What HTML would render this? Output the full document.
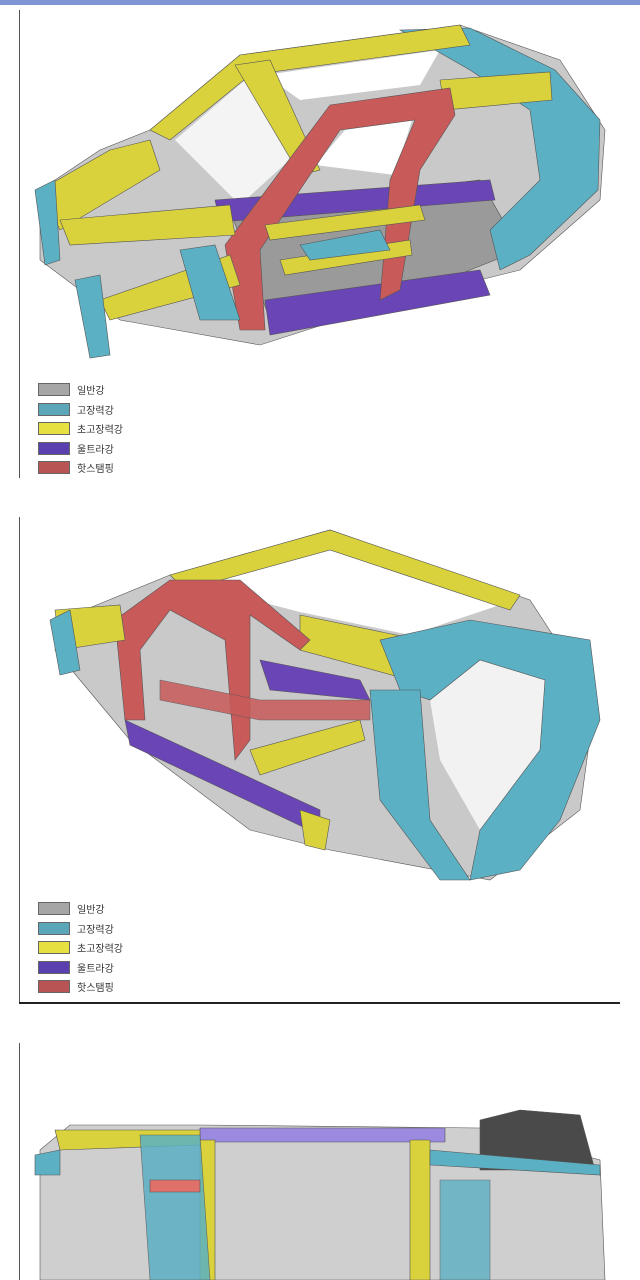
<!DOCTYPE html>
<html><head><meta charset="utf-8"><style>
html,body{margin:0;padding:0;background:#fff;}
body{width:640px;height:1280px;position:relative;overflow:hidden;font-family:"Liberation Sans","Noto Sans CJK KR",sans-serif;}
.topbar{position:absolute;left:0;top:0;width:640px;height:5px;background:#7f95d6;}
.vl{position:absolute;left:19px;width:1px;background:#555;}
.hl{position:absolute;left:19px;top:1002px;width:601px;height:2px;background:#222;}
.leg{position:absolute;left:38px;font-size:10px;color:#333;}
.leg div{height:19.5px;display:flex;align-items:center;}
.leg span{display:inline-block;width:30px;height:11px;border:1px solid #666;margin-right:7px;}
svg{position:absolute;left:0;}
</style></head><body>
<div class="topbar"></div>
<div class="vl" style="top:10px;height:468px"></div>
<div class="vl" style="top:517px;height:486px"></div>
<div class="vl" style="top:1043px;height:237px"></div>
<div class="hl"></div>

<svg style="top:0" width="640" height="360" viewBox="0 0 640 360">
<g stroke="#555" stroke-width="0.6">
<polygon points="150,130 240,55 460,25 560,60 605,130 600,200 520,270 400,300 260,345 120,320 40,260 40,190 100,150" fill="#c9c9c9"/>
<polygon points="265,75 440,50 420,85 300,100" fill="#fff" stroke="none"/>
<polygon points="175,140 245,80 295,155 240,205" fill="#f4f4f4" stroke="none"/>
<polygon points="315,165 345,130 412,120 395,175" fill="#fff" stroke="none"/>
<polygon points="230,210 480,180 520,250 420,290 270,320" fill="#9a9a9a"/>
<polygon points="400,30 470,28 555,70 600,120 598,190 530,255 500,270 490,230 540,180 530,110 470,70" fill="#5bb0c4"/>
<polygon points="150,130 240,55 460,25 470,45 250,75 170,140" fill="#d9d23c"/>
<polygon points="235,65 270,60 320,170 300,175" fill="#d9d23c"/>
<polygon points="440,80 550,72 552,100 445,110" fill="#d9d23c"/>
<polygon points="215,200 490,180 495,200 220,222" fill="#6a45b5"/>
<polygon points="265,300 480,270 490,295 270,335" fill="#6a45b5"/>
<polygon points="225,245 330,105 450,88 455,115 420,170 400,290 380,300 390,180 415,120 340,130 260,250 265,330 240,330" fill="#c85a5a"/>
<polygon points="265,225 420,205 425,220 270,240" fill="#d9d23c"/>
<polygon points="280,260 410,240 412,255 285,275" fill="#d9d23c"/>
<polygon points="40,190 110,150 150,140 160,170 60,230" fill="#d9d23c"/>
<polygon points="60,220 230,205 235,235 70,245" fill="#d9d23c"/>
<polygon points="100,300 230,255 240,285 110,320" fill="#d9d23c"/>
<polygon points="35,190 55,180 60,260 45,265" fill="#5bb0c4"/>
<polygon points="75,280 100,275 110,355 90,358" fill="#5bb0c4"/>
<polygon points="180,250 215,245 240,320 200,320" fill="#5bb0c4"/>
<polygon points="300,245 380,230 390,250 310,260" fill="#5bb0c4"/>
</g></svg>

<svg style="top:510px" width="640" height="390" viewBox="0 510 640 390">
<g stroke="#555" stroke-width="0.6">
<polygon points="60,620 170,575 330,530 530,600 595,700 580,810 490,880 330,850 250,830 130,740 55,650" fill="#c9c9c9"/>
<polygon points="195,585 325,548 500,605 410,635 300,612" fill="#fff" stroke="none"/>
<polygon points="430,700 480,660 545,680 540,750 480,830 440,760" fill="#f2f2f2" stroke="none"/>
<polygon points="170,575 330,530 520,595 510,610 330,550 185,590" fill="#d9d23c"/>
<polygon points="300,615 420,640 410,680 300,650" fill="#d9d23c"/>
<polygon points="380,640 470,620 590,640 600,720 560,820 520,870 470,880 480,830 540,750 545,680 480,660 430,700 400,690" fill="#5bb0c4"/>
<polygon points="370,690 420,690 430,820 470,880 440,880 380,800" fill="#5bb0c4"/>
<polygon points="115,620 170,580 240,580 310,640 300,650 250,615 250,740 235,760 225,640 170,610 140,650 145,720 125,720" fill="#c85a5a"/>
<polygon points="160,680 260,700 370,700 370,720 260,720 160,700" fill="#c85a5a" opacity="0.85"/>
<polygon points="125,720 320,810 320,835 130,745" fill="#6a45b5"/>
<polygon points="260,660 360,680 370,700 270,690" fill="#6a45b5"/>
<polygon points="250,750 360,720 365,740 260,775" fill="#d9d23c"/>
<polygon points="55,610 120,605 125,640 60,650" fill="#d9d23c"/>
<polygon points="50,620 70,610 80,670 60,675" fill="#5bb0c4"/>
<polygon points="300,810 330,820 325,850 305,845" fill="#d9d23c"/>
</g></svg>

<svg style="top:1100px" width="640" height="180" viewBox="0 1100 640 180">
<g stroke="#555" stroke-width="0.6">
<polygon points="40,1150 70,1125 200,1125 480,1128 600,1160 605,1280 40,1280" fill="#cfcfcf"/>
<polygon points="480,1120 520,1110 580,1115 595,1170 480,1170" fill="#4a4a4a"/>
<polygon points="200,1128 445,1128 445,1142 200,1142" fill="#9b8ae0"/>
<polygon points="55,1130 200,1130 200,1145 60,1150" fill="#d9d23c"/>
<polygon points="200,1140 215,1140 215,1280 200,1280" fill="#d9d23c"/>
<polygon points="410,1140 430,1140 430,1280 410,1280" fill="#d9d23c"/>
<polygon points="140,1135 200,1135 210,1280 150,1280" fill="#5bb0c4" opacity="0.85"/>
<polygon points="430,1150 600,1165 600,1175 430,1165" fill="#5bb0c4"/>
<polygon points="440,1180 490,1180 490,1280 440,1280" fill="#5bb0c4" opacity="0.8"/>
<polygon points="150,1180 200,1180 200,1192 150,1192" fill="#e0706a"/>
<polygon points="35,1155 60,1150 60,1175 35,1175" fill="#5bb0c4"/>
</g></svg>

<div class="leg" style="top:380px">
<div><span style="background:#a6a6a6"></span>일반강</div>
<div><span style="background:#5ba6b8"></span>고장력강</div>
<div><span style="background:#e6e040"></span>초고장력강</div>
<div><span style="background:#5a3fae"></span>울트라강</div>
<div><span style="background:#b85454"></span>핫스탬핑</div>
</div>
<div class="leg" style="top:899px">
<div><span style="background:#a6a6a6"></span>일반강</div>
<div><span style="background:#5ba6b8"></span>고장력강</div>
<div><span style="background:#e6e040"></span>초고장력강</div>
<div><span style="background:#5a3fae"></span>울트라강</div>
<div><span style="background:#b85454"></span>핫스탬핑</div>
</div>
</body></html>
